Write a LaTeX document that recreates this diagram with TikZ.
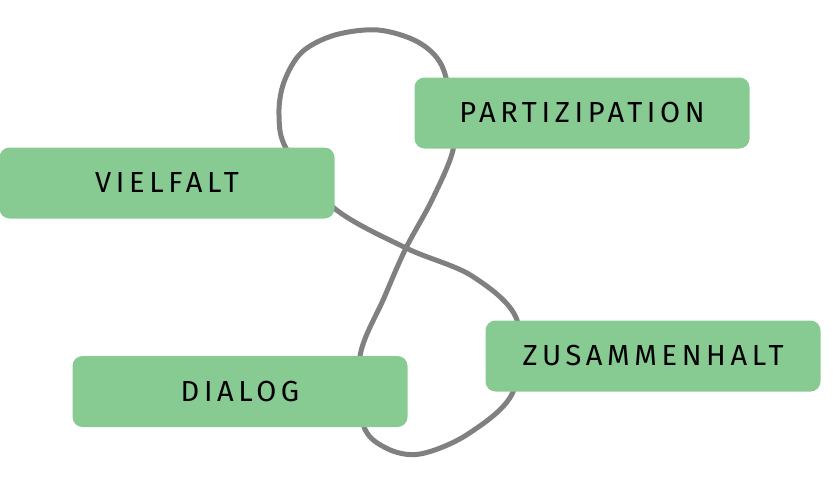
\documentclass[tikz,border=0pt]{standalone}
\usepackage{fontspec}
\usepackage{xcolor}
\usetikzlibrary{calc}
\newfontfamily\hand[LetterSpace=16]{Fira Sans}
\definecolor{boxgreen}{HTML}{87CB93}
\definecolor{loopgray}{HTML}{808080}
\tikzset{
    topic/.style={fill=boxgreen,rounded corners=10pt,minimum width=335pt,minimum height=71pt,inner sep=0pt,font=\hand\fontsize{29}{29}\selectfont},
    loopline/.style={draw=loopgray,line width=5pt,line join=round}
}

\begin{document}
\begin{tikzpicture}[x=1pt,y=-1pt]
	\useasboundingbox (0,0) rectangle (840,482);

	% the knot behind the boxes
	\draw[loopline] plot[smooth cycle,tension=0.55] coordinates {
		(452,112) (453,150) (432,200) (406,248) (384,298) (360,356)
		(363,424) (386,448) (420,454) (468,434) (513,392) (517,320)
		(472,276) (406,248) (334,208) (287,150) (279,115) (284,82)
		(302,52) (335,35) (378,30) (418,42) (442,66)};

	\node[topic] (part) at (582,113) {PARTIZIPATION};
	\node[topic] (viel) at (167,183) {VIELFALT};
	\node[topic] (zus) at (653,356) {ZUSAMMENHALT};
	\node[topic] (dial) at (240,391.5) {DIALOG};

\end{tikzpicture}
\end{document}
